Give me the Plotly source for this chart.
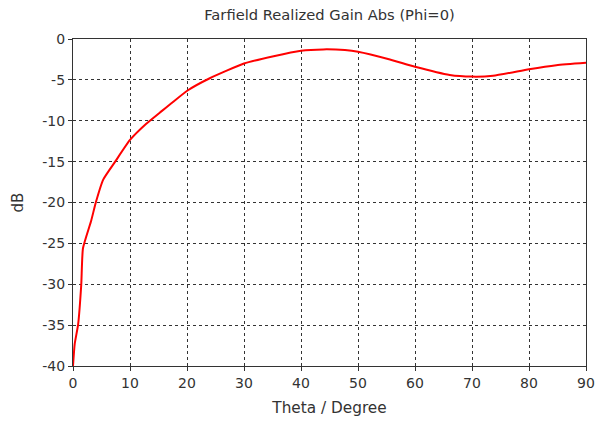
import plotly.graph_objects as go

theta = [0, 0.3, 0.9, 1.45, 1.75, 3.2, 4.0, 5.3, 7.4, 10, 12.8, 15.5, 17.2, 20.1, 24,
         30, 35.2, 40, 43.9, 47.7, 50, 55.6, 60, 66.1, 70, 73.7, 80, 84.8, 90]
gain_db = [-40, -37.3, -34.9, -30.0, -25.6, -22.2, -20.0, -17.2, -15.0, -12.35, -10.4, -8.85, -7.9, -6.3, -4.8,
           -3.0, -2.1, -1.43, -1.27, -1.35, -1.55, -2.5, -3.4, -4.4, -4.6, -4.5, -3.7, -3.2, -2.9]

x_ticks = list(range(0, 91, 10))
y_ticks = list(range(-40, 1, 5))

font = "DejaVu Sans"

fig = go.Figure()
fig.add_trace(go.Scatter(x=theta, y=gain_db, mode="lines",
                         line=dict(color="#ff0000", width=2, shape="spline", smoothing=0.5),
                         showlegend=False))

axis_common = dict(showline=True, linecolor="#333333", linewidth=1.3, mirror=True,
                   showgrid=True, gridcolor="#333333", gridwidth=1, griddash="3px,3px",
                   ticks="outside", ticklen=4, tickcolor="#333333", automargin=False,
                   tickfont=dict(family=font, size=14, color="#333333"), zeroline=False)

fig.update_layout(
    width=595, height=421,
    margin=dict(l=73, r=9, t=39, b=55),
    paper_bgcolor="white", plot_bgcolor="white",
    title=dict(text="Farfield Realized Gain Abs (Phi=0)", x=0.5, xref="paper", y=0.965, yanchor="middle",
               font=dict(family=font, size=14.7, color="#333333")),
    xaxis=dict(range=[0, 90], tickvals=x_ticks, ticktext=[str(v) for v in x_ticks],
               title=dict(text="Theta / Degree", standoff=12, font=dict(family=font, size=15.3, color="#333333")),
               **axis_common),
    yaxis=dict(range=[-40, 0], tickvals=y_ticks, ticktext=[str(v) for v in y_ticks],
               title=dict(text="dB", standoff=14, font=dict(family=font, size=15, color="#333333")),
               **axis_common),
)

fig.write_html("out.html", config={"displayModeBar": False},
               post_script="document.body.style.margin='0';")
